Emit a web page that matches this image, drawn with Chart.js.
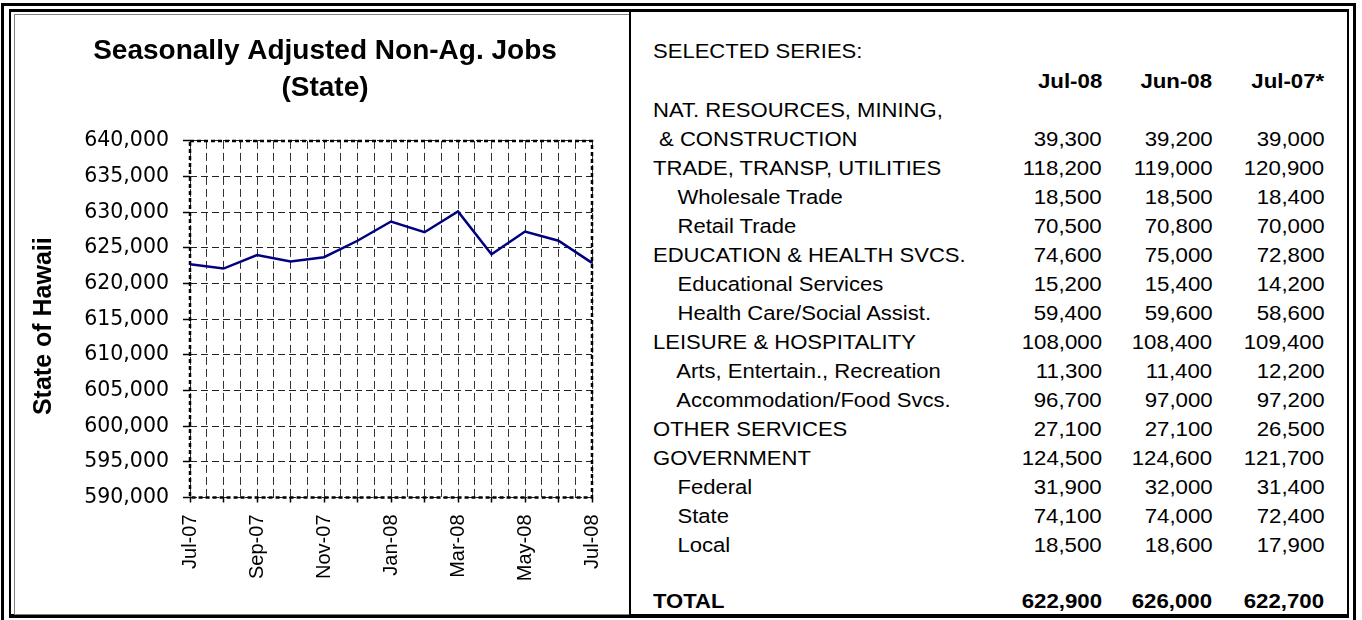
<!DOCTYPE html>
<html>
<head>
<meta charset="utf-8">
<script src="https://cdn.jsdelivr.net/npm/chart.js@4.4.1/dist/chart.umd.min.js"></script>
<style>
  html, body { margin: 0; padding: 0; background: #fff; }
  body { width: 1362px; height: 620px; position: relative; overflow: hidden; font-family: "Liberation Sans", Arial, sans-serif; }
  .ln { position: absolute; background: #000; }
  #panel { position: absolute; left: 14px; top: 14px; width: 614px; height: 599px; border: 1px solid #808080; box-sizing: content-box; }
  #chartWrap { position: absolute; left: 15px; top: 15px; width: 614px; height: 598px; }
  .cell { position: absolute; font-size: 20.5px; line-height: 29px; height: 29px; white-space: pre; color: #000; }
  .cell.l { transform-origin: 0 50%; transform: scaleX(1.075); }
  .cell.r { transform-origin: 100% 50%; transform: scaleX(1.085); text-align: right; }
  .cell.b { font-weight: bold; }
</style>
</head>
<body>
<!-- frame lines -->
<div class="ln" style="left:1px;top:3px;width:3px;height:617px"></div>
<div class="ln" style="left:1px;top:3px;width:1355px;height:3px"></div>
<div class="ln" style="left:1353px;top:3px;width:3px;height:617px"></div>
<div style="position:absolute;left:9px;top:9px;width:1336px;height:602px;border-style:solid;border-color:#000;border-width:3px 2px 4px 2px"></div>
<div id="panel"></div>
<div class="ln" style="left:629px;top:12px;width:2px;height:603px"></div>
<div id="chartWrap"><canvas id="c" width="614" height="598"></canvas></div>
<div id="table"></div>
<script>
// ---- chart data ----
const months = ['Jul-07','Aug-07','Sep-07','Oct-07','Nov-07','Dec-07','Jan-08','Feb-08','Mar-08','Apr-08','May-08','Jun-08','Jul-08'];
const jobs = [622700, 622100, 624000, 623100, 623700, 626000, 628700, 627200, 630100, 624100, 627300, 626000, 622900];
const yMin = 590000, yMax = 640000, yStep = 5000;

// ---- table data ----
const tableTitle = 'SELECTED SERIES:';
const columnHeads = ['Jul-08', 'Jun-08', 'Jul-07*'];
const seriesLabels = ['NAT. RESOURCES, MINING,', ' & CONSTRUCTION', 'TRADE, TRANSP, UTILITIES', '    Wholesale Trade', '    Retail Trade',
  'EDUCATION & HEALTH SVCS.', '    Educational Services', '    Health Care/Social Assist.', 'LEISURE & HOSPITALITY',
  '    Arts, Entertain., Recreation', '    Accommodation/Food Svcs.', 'OTHER SERVICES', 'GOVERNMENT', '    Federal', '    State', '    Local'];
const jul08 = [null, 39300, 118200, 18500, 70500, 74600, 15200, 59400, 108000, 11300, 96700, 27100, 124500, 31900, 74100, 18500];
const jun08 = [null, 39200, 119000, 18500, 70800, 75000, 15400, 59600, 108400, 11400, 97000, 27100, 124600, 32000, 74000, 18600];
const jul07 = [null, 39000, 120900, 18400, 70000, 72800, 14200, 58600, 109400, 12200, 97200, 26500, 121700, 31400, 72400, 17900];
const totalLabel = 'TOTAL';
const totals = [622900, 626000, 622700];

// ---- table layout ----
const tbl = document.getElementById('table');
const labelX = 653;
const colRight = [1102, 1212.5, 1324.5];
const fmt = v => v.toLocaleString('en-US');
function cell(text, y, x, align, bold) {
  const d = document.createElement('div');
  d.className = 'cell ' + align + (bold ? ' b' : '');
  d.textContent = text;
  d.style.top = (y - 14.5) + 'px';
  if (align === 'l') d.style.left = x + 'px';
  else d.style.right = (1362 - x) + 'px';
  tbl.appendChild(d);
}
cell(tableTitle, 50, labelX, 'l', false);
columnHeads.forEach((h, j) => cell(h, 80, colRight[j], 'r', true));
const cols = [jul08, jun08, jul07];
seriesLabels.forEach((lab, i) => {
  const y = 109 + 29.05 * i;
  cell(lab, y, labelX, 'l', false);
  cols.forEach((col, j) => { if (col[i] != null) cell(fmt(col[i]), y, colRight[j], 'r', false); });
});
cell(totalLabel, 600.5, labelX, 'l', true);
totals.forEach((v, j) => cell(fmt(v), 600.5, colRight[j], 'r', true));

// ---- chart ----
const framePlugin = {
  id: 'frame',
  beforeDatasetsDraw(chart) {
    const { ctx, chartArea: a } = chart;
    ctx.save();
    ctx.strokeStyle = '#000';
    ctx.lineWidth = 2.5;
    ctx.setLineDash([4, 3]);
    ctx.strokeRect(a.left, a.top, a.right - a.left, a.bottom - a.top);
    ctx.restore();
  }
};

new Chart(document.getElementById('c'), {
  type: 'line',
  data: {
    datasets: [{
      data: jobs.map((v, i) => ({ x: i, y: v })),
      borderColor: '#000080',
      borderWidth: 2.5,
      pointRadius: 0,
      tension: 0,
      fill: false
    }]
  },
  options: {
    responsive: false,
    animation: false,
    devicePixelRatio: 1,
    layout: { padding: { left: 43, right: 37, top: 18, bottom: 0 } },
    plugins: {
      legend: { display: false },
      tooltip: { enabled: false },
      title: {
        display: true,
        text: ['Seasonally Adjusted Non-Ag. Jobs', '(State)'],
        color: '#000',
        font: { family: 'Liberation Sans', size: 28, weight: 'bold', lineHeight: 1.32 },
        padding: { top: 0, bottom: 34 }
      }
    },
    scales: {
      x: {
        type: 'linear',
        min: 0,
        max: months.length - 1,
        afterFit: s => { s.height = 115.5; },
        ticks: {
          stepSize: 0.5,
          autoSkip: false,
          maxTicksLimit: 100,
          minRotation: 90,
          maxRotation: 90,
          padding: 12,
          color: '#000',
          font: { family: 'Liberation Sans', size: 20 },
          callback: v => (Number.isInteger(v) && v % 2 === 0) ? months[v] : ''
        },
        grid: {
          color: '#333',
          lineWidth: 1,
          tickLength: 5,
          tickWidth: 1.5,
          tickColor: c => (c.tick && Number.isInteger(c.tick.value)) ? '#000' : 'rgba(0,0,0,0)'
        },
        border: { display: false, dash: [8, 4] }
      },
      y: {
        min: yMin,
        max: yMax,
        afterFit: s => { s.width = 132; },
        ticks: {
          stepSize: yStep,
          padding: 14,
          color: '#000',
          font: { family: 'DejaVu Sans', size: 20.5 },
          callback: v => v.toLocaleString('en-US')
        },
        grid: {
          color: '#222',
          lineWidth: 1,
          tickLength: 7,
          tickWidth: 1.5,
          tickColor: '#000'
        },
        border: { display: false, dash: [7, 4] },
        title: {
          display: true,
          text: 'State of Hawaii  ',
          color: '#000',
          padding: { top: -29, bottom: 0 },
          font: { family: 'Liberation Sans', size: 25, weight: 'bold' }
        }
      }
    }
  },
  plugins: [framePlugin]
});
</script>
</body>
</html>
